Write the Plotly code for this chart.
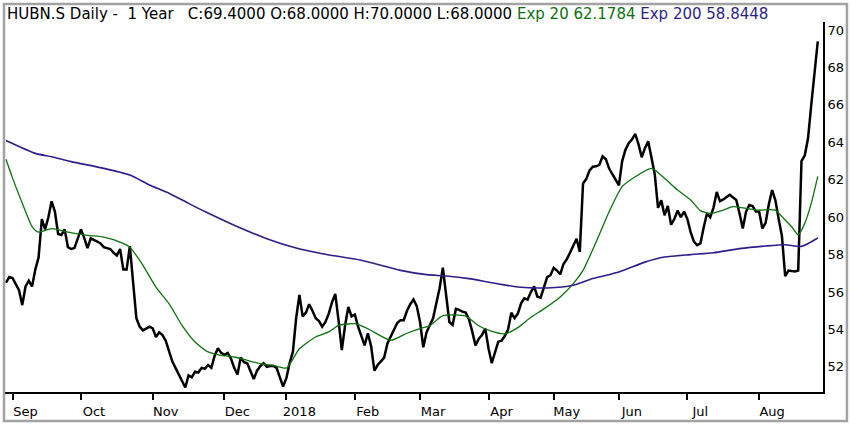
import pandas as pd
import plotly.graph_objects as go

# SIX trading days, Aug 30 2017 .. Aug 28 2018
holidays = ["2017-12-25", "2017-12-26", "2018-01-01", "2018-01-02", "2018-03-30",
            "2018-04-02", "2018-05-01", "2018-05-10", "2018-05-21", "2018-08-01"]
days = pd.bdate_range("2017-08-30", "2018-08-28")
days = days[~days.isin(pd.to_datetime(holidays))]
dates = days.strftime("%Y-%m-%d").tolist()

# daily close
close = [
    56.5, 56.8,
    56.75, 56.4, 56.1, 55.3, 56.3, 56.6, 56.3, 57.2, 57.85, 59.9, 59.35, 60.0, 60.85, 60.3,
    59.1, 59.05, 59.35, 58.4, 58.3, 58.35, 58.9,
    59.35, 58.9, 58.35, 58.87, 58.8, 58.7, 58.6, 58.4, 58.35, 58.3, 58.1, 57.95, 58.3, 57.2,
    57.2, 58.45, 56.5, 54.6, 54.15, 53.95, 54.05, 54.15,
    54.06, 53.6, 53.85, 53.7, 53.4, 52.85, 52.3, 51.95, 51.6, 51.3, 50.9, 51.55, 51.45, 51.75,
    51.7, 51.95, 51.9, 52.1, 51.95, 52.6, 53.0, 52.75,
    52.65, 52.75, 52.45, 51.95, 51.6, 52.5, 52.25, 52.2, 51.75, 51.35, 51.8, 52.05, 52.2, 52.0,
    52.05, 52.05, 51.95, 51.5, 50.95,
    51.4, 52.2, 52.8, 54.6, 55.85, 54.7, 54.9, 55.35, 55.0, 54.6, 54.45, 54.15, 54.4, 54.85,
    55.45, 55.9, 54.5, 52.9, 54.2, 55.2, 54.7,
    54.8, 54.15, 53.6, 53.15, 53.8, 53.1, 51.8, 52.1, 52.3, 52.5, 53.25, 53.6, 53.95, 54.35,
    54.5, 54.5, 55.0, 55.35, 55.6, 55.25,
    54.4, 53.05, 53.85, 54.2, 54.6, 55.4, 56.2, 57.3, 56.0, 54.4, 54.25, 55.1, 55.05, 54.95,
    54.9, 54.55, 53.9, 53.15, 53.5, 53.7, 54.05,
    53.0, 52.2, 52.8, 53.35, 53.4, 53.65, 54.0, 54.9, 54.6, 54.85, 55.4, 55.67, 55.6, 56.0,
    56.3, 55.75, 55.7, 56.25, 56.8, 56.9,
    57.3, 57.15, 56.95, 57.5, 57.75, 58.1, 58.5, 58.85, 58.15, 61.8, 62.05, 62.5, 62.7, 62.72,
    62.8, 63.25, 63.1, 62.6, 62.3, 62.0,
    61.7, 63.0, 63.6, 63.95, 64.15, 64.45, 63.9, 63.2, 63.7, 64.05, 63.2, 62.3, 60.5, 60.9,
    60.1, 60.6, 59.6, 59.9, 60.35, 60.0, 60.3,
    59.9, 59.2, 58.7, 58.5, 58.6, 59.45, 60.2, 60.0, 60.5, 61.35, 60.85, 60.95, 61.1, 61.2,
    61.05, 60.92, 60.2, 59.4, 60.3, 60.65, 60.6, 60.3,
    60.3, 59.4, 59.7, 60.7, 61.45, 60.9, 59.9, 59.0, 56.85, 57.15, 57.12, 57.1, 57.15, 63.0,
    63.3, 64.2, 66.0, 67.6, 69.4,
]

# Exp 20 line, read at some trading days (day number from the first bar)
ema20_day = [0, 2, 5, 8, 10, 14, 19, 25, 30, 35, 38, 42, 46, 50, 54, 58, 62, 66, 70, 74, 78,
             82, 86, 90, 95, 99, 102, 107, 111, 118, 123, 127, 130, 134, 141, 145, 149, 153,
             157, 161, 165, 170, 174, 177, 181, 185, 189, 193, 198, 202, 206, 210, 213, 216,
             220, 223, 227, 231, 236, 238, 241, 243, 245, 247, 249]
ema20 = [63.1, 62.1, 60.75, 59.5, 59.2, 59.39, 59.2, 59.03, 58.94, 58.67, 58.4, 57.43, 56.27,
         55.38, 54.22, 53.33, 52.8, 52.62, 52.53, 52.35, 52.17, 52.08, 51.94, 52.97, 53.6,
         53.87, 54.22, 54.31, 54.04, 53.42, 53.8, 54.05, 54.2, 54.74, 54.72, 54.2, 53.9,
         53.77, 54.1, 54.65, 55.1, 55.74, 56.45, 57.16, 58.67, 60.29, 61.63, 62.16, 62.61,
         62.08, 61.45, 60.92, 60.35, 60.2, 60.38, 60.56, 60.47, 60.38, 60.38, 60.03, 59.49,
         59.05, 59.67, 60.74, 62.18]

# Exp 200 line
ema200_day = [0, 9, 14, 20, 30, 38, 44, 50, 56, 61, 70, 80, 89, 97, 109, 121, 129, 135,
              142, 149, 157, 166, 174, 180, 188, 196, 202, 210, 217, 225, 233, 239, 244, 249]
ema200 = [64.1, 63.41, 63.23, 62.97, 62.61, 62.25, 61.72, 61.28, 60.74, 60.3, 59.57, 58.85,
          58.35, 58.05, 57.7, 57.16, 56.93, 56.86, 56.72, 56.5, 56.27, 56.22, 56.36, 56.72,
          57.07, 57.6, 57.87, 58.0, 58.1, 58.32, 58.46, 58.53, 58.44, 58.89]

tick_dates = ["2017-09-01", "2017-10-02", "2017-11-01", "2017-12-01", "2018-01-03", "2018-02-01",
              "2018-03-01", "2018-04-03", "2018-05-02", "2018-06-01", "2018-07-02", "2018-08-02"]
tick_labels = ["Sep", "Oct", "Nov", "Dec", "2018", "Feb", "Mar", "Apr", "May", "Jun", "Jul", "Aug"]

GREEN = "#0e7010"
PURPLE = "#2c1f8a"
FONT = "DejaVu Sans"

fig = go.Figure()
fig.add_trace(go.Scatter(x=dates, y=close, mode="lines", name="Close",
                         line=dict(color="black", width=2.5)))
fig.add_trace(go.Scatter(x=[dates[d] for d in ema20_day], y=ema20, mode="lines", name="Exp 20",
                         line=dict(color=GREEN, width=1.3, shape="spline", smoothing=0.6)))
fig.add_trace(go.Scatter(x=[dates[d] for d in ema200_day], y=ema200, mode="lines", name="Exp 200",
                         line=dict(color=PURPLE, width=1.6, shape="spline", smoothing=0.6)))

title = ("HUBN.S Daily -\u00a0 1 Year\u00a0\u00a0\u00a0C:69.4000 O:68.0000 H:70.0000 L:68.0000 "
         f"<span style='color:{GREEN}'>Exp 20 62.1784</span> "
         f"<span style='color:{PURPLE}'>Exp 200 58.8448</span>")
fig.add_annotation(text=title, xref="paper", yref="paper", x=0.0, y=1.022,
                   xanchor="left", yanchor="middle", showarrow=False,
                   font=dict(family=FONT, size=15, color="black"))

# outer grey frame
fig.add_shape(type="rect", xref="paper", yref="paper", x0=-0.0012, x1=1.0293, y0=-0.0784, y1=1.0486,
              line=dict(color="#a2a2a2", width=2.5))

fig.update_layout(
    width=850, height=424,
    margin=dict(l=5, r=27, t=22, b=32),
    paper_bgcolor="white", plot_bgcolor="white",
    showlegend=False,
    font=dict(family=FONT, size=13, color="black"),
)
fig.update_xaxes(type="category", categoryorder="array", categoryarray=dates,
                 range=[-0.3, 250.6], tickmode="array", tickvals=tick_dates, ticktext=tick_labels,
                 ticks="outside", ticklen=6, tickwidth=2, tickcolor="black", ticklabelshift=13,
                 showline=True, linecolor="black", linewidth=2, showgrid=False, zeroline=False)
fig.update_yaxes(side="right", range=[50.66, 70.43], tickvals=list(range(52, 71, 2)),
                 ticks="", showline=True, linecolor="black", linewidth=2,
                 showgrid=False, zeroline=False)

# page body has an 8px default margin; drop it so the figure sits at the window corner
fig.write_html("out.html", config={"displayModeBar": False},
               post_script="document.body.style.margin = '0';")
